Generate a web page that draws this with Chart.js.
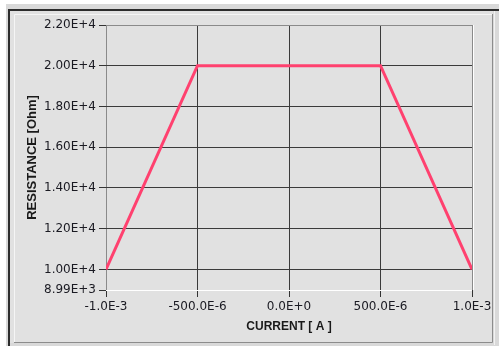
<!DOCTYPE html>
<html>
<head>
<meta charset="utf-8">
<script src="https://cdn.jsdelivr.net/npm/chart.js@4/dist/chart.umd.min.js"></script>
<style>
  html, body { margin: 0; padding: 0; background: #ffffff; }
  #wrap { width: 499px; height: 347px; }
</style>
</head>
<body>
<div id="wrap"><canvas id="c" width="499" height="347"></canvas></div>
<script>
// ---- data ----
const currents = [-1e-3, -500e-6, 500e-6, 1e-3];
const resistance = [10000, 20000, 20000, 10000];

const xTickValues = [-1e-3, -500e-6, 0, 500e-6, 1e-3];
const xTickLabels = ["-1.0E-3", "-500.0E-6", "0.0E+0", "500.0E-6", "1.0E-3"];
const yTickValues = [8990, 10000, 12000, 14000, 16000, 18000, 20000, 22000];
const yTickLabels = ["8.99E+3", "1.00E+4", "1.20E+4", "1.40E+4", "1.60E+4", "1.80E+4", "2.00E+4", "2.20E+4"];

const xTitle = "CURRENT [ A ]";
const yTitle = "RESISTANCE [Ohm]";

// ---- frame / background plugin ----
const framePlugin = {
  id: 'frame',
  beforeDraw(chart) {
    const ctx = chart.ctx;
    ctx.save();
    ctx.fillStyle = '#ffffff';
    ctx.fillRect(0, 0, 499, 347);
    ctx.fillStyle = '#d9d9d9';
    ctx.fillRect(6, 4, 493, 342);
    ctx.fillStyle = '#2c2c2c';
    ctx.fillRect(8, 9, 491, 2);
    ctx.fillRect(8, 9, 2, 337);
    ctx.fillStyle = '#e1e1e1';
    ctx.fillRect(10, 11, 483, 332);
    ctx.strokeStyle = '#f5f5f5';
    ctx.lineWidth = 1;
    ctx.beginPath();
    ctx.moveTo(14.5, 342); ctx.lineTo(14.5, 14.5); ctx.lineTo(492, 14.5);
    ctx.stroke();
    ctx.strokeStyle = '#8c8c8c';
    ctx.beginPath();
    ctx.moveTo(492.5, 14); ctx.lineTo(492.5, 342.5); ctx.lineTo(14, 342.5);
    ctx.stroke();
    ctx.strokeStyle = '#f2f2f2';
    ctx.beginPath();
    ctx.moveTo(494.5, 11); ctx.lineTo(494.5, 345);
    ctx.stroke();
    ctx.restore();
  },
  beforeDatasetsDraw(chart) {
    const ctx = chart.ctx;
    const a = chart.chartArea;
    ctx.save();
    ctx.strokeStyle = '#ffffff';
    ctx.lineWidth = 1;
    ctx.beginPath();
    ctx.moveTo(Math.round(a.right) + 1.5, a.top);
    ctx.lineTo(Math.round(a.right) + 1.5, a.bottom);
    ctx.stroke();
    ctx.restore();
  }
};

const near = (a, b) => Math.abs(a - b) < 1e-9;

new Chart(document.getElementById('c'), {
  type: 'scatter',
  data: {
    datasets: [{
      data: currents.map((x, i) => ({ x: x, y: resistance[i] })),
      showLine: true,
      borderColor: '#ff416f',
      backgroundColor: '#ff416f',
      borderWidth: 3,
      pointRadius: 0,
      pointHoverRadius: 0,
      tension: 0
    }]
  },
  options: {
    responsive: false,
    devicePixelRatio: 1,
    animation: false,
    events: [],
    layout: { padding: { left: 0, right: 27, top: 25, bottom: 0 } },
    plugins: { legend: { display: false }, tooltip: { enabled: false } },
    scales: {
      x: {
        type: 'linear',
        min: -1e-3,
        max: 1e-3,
        afterBuildTicks: s => { s.ticks = xTickValues.map(v => ({ value: v })); },
        afterFit: s => { s.height = 57; },
        border: { display: false },
        grid: {
          color: c => (c.tick && (near(c.tick.value, -1e-3) || near(c.tick.value, 1e-3))) ? '#8a8a8a' : '#3a3a3a',
          tickColor: '#333333',
          tickLength: 7,
          lineWidth: 1
        },
        ticks: {
          autoSkip: false,
          maxRotation: 0,
          padding: 3,
          color: '#1a1a22',
          font: { family: 'DejaVu Sans', size: 12 },
          callback: function (v) {
            const i = xTickValues.findIndex(t => near(t, v));
            return i >= 0 ? xTickLabels[i] : '';
          }
        },
        title: {
          display: true,
          text: xTitle,
          color: '#1a1a1a',
          font: { family: 'Liberation Sans', size: 12, weight: 'bold' },
          padding: { top: 0, bottom: 13 }
        }
      },
      y: {
        type: 'linear',
        min: 8990,
        max: 22000,
        afterBuildTicks: s => { s.ticks = yTickValues.map(v => ({ value: v })); },
        afterFit: s => { s.width = 106; },
        border: { display: false },
        grid: {
          color: c => {
            if (!c.tick) return '#3a3a3a';
            if (c.tick.value === 8990) return '#ffffff';
            if (c.tick.value === 22000) return '#8a8a8a';
            return '#3a3a3a';
          },
          tickColor: '#333333',
          tickLength: 7,
          lineWidth: 1
        },
        ticks: {
          autoSkip: false,
          padding: 3,
          color: '#1a1a22',
          font: { family: 'DejaVu Sans', size: 12 },
          callback: function (v) {
            const i = yTickValues.indexOf(v);
            return i >= 0 ? yTickLabels[i] : '';
          }
        },
        title: {
          display: true,
          text: yTitle,
          color: '#1a1a1a',
          font: { family: 'Liberation Sans', size: 13, weight: 'bold' },
          padding: { top: 25, bottom: 0 }
        }
      }
    }
  },
  plugins: [framePlugin]
});
</script>
</body>
</html>
